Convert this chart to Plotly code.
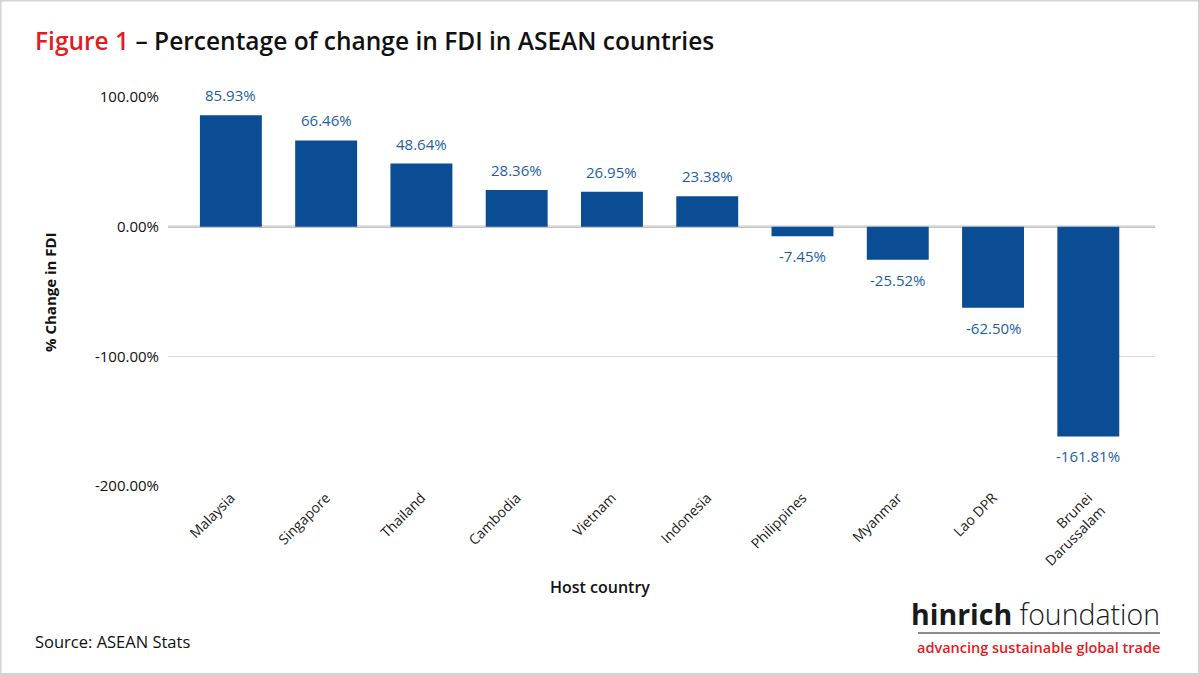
import plotly.graph_objects as go

countries = ["Malaysia", "Singapore", "Thailand", "Cambodia", "Vietnam", "Indonesia",
             "Philippines", "Myanmar", "Lao DPR", "Brunei<br>Darussalam"]
fdi_change = [85.93, 66.46, 48.64, 28.36, 26.95, 23.38, -7.45, -25.52, -62.50, -161.81]
y_tickvals = [100, 0, -100, -200]
y_ticktext = ["100.00%", "0.00%", "-100.00%", "-200.00%"]

W, H = 1200, 675
L, R, T, B = 168, 45, 97, 189
pw, ph = W - L - R, H - T - B

def px(x):
    return (x - L) / pw

def py(y):
    return (H - B - y) / ph

BAR = "#0b4d94"
LAB = "#1d5ea8"
FONT = "Open Sans"

fig = go.Figure()
fig.add_trace(go.Bar(
    x=list(range(len(countries))), y=fdi_change,
    marker=dict(color=BAR, line=dict(width=0)),
    width=0.65, showlegend=False, hoverinfo="skip",
))

annotations = []
for i, v in enumerate(fdi_change):
    annotations.append(dict(
        x=i, y=v, xref="x", yref="y", text=f"{v:.2f}%", showarrow=False,
        yshift=20 if v >= 0 else -20, yanchor="middle",
        font=dict(family=FONT, size=15, color=LAB),
    ))

annotations += [
    dict(xref="paper", yref="paper", x=px(33), y=py(40), xanchor="left", yanchor="middle",
         text="<span style='color:#e31b23'>Figure 1</span> – Percentage of change in FDI in ASEAN countries",
         showarrow=False, font=dict(family=FONT, size=24.5, color="#111111", weight=600)),
    dict(xref="paper", yref="paper", x=px(50), y=py(292), textangle=-90,
         xanchor="center", yanchor="middle", text="% Change in FDI", showarrow=False,
         font=dict(family=FONT, size=15, color="#111111", weight=700)),
    dict(xref="paper", yref="paper", x=px(600), y=py(587), xanchor="center", yanchor="middle",
         text="Host country", showarrow=False,
         font=dict(family=FONT, size=16, color="#111111", weight=600)),
    dict(xref="paper", yref="paper", x=px(33), y=py(641), xanchor="left", yanchor="middle",
         text="Source: ASEAN Stats", showarrow=False,
         font=dict(family=FONT, size=16.5, color="#111111")),
    dict(xref="paper", yref="paper", x=px(1162), y=py(614), xanchor="right", yanchor="middle",
         text="<b>hinrich</b> foundation", showarrow=False,
         font=dict(family=FONT, size=28.5, color="#1a1a1a", weight=300)),
    dict(xref="paper", yref="paper", x=px(1162), y=py(647), xanchor="right", yanchor="middle",
         text="advancing sustainable global trade", showarrow=False,
         font=dict(family=FONT, size=14.5, color="#e31b23", weight=600)),
]

shapes = [
    dict(type="line", xref="paper", yref="paper", x0=px(918), x1=px(1160), y0=py(633), y1=py(633),
         line=dict(color="#8c8c8c", width=2)),
    dict(type="line", xref="paper", yref="y", x0=0, x1=1, y0=0, y1=0,
         line=dict(color="#c4c4c4", width=2.5), layer="below"),
    dict(type="rect", xref="paper", yref="paper", x0=px(0.5), x1=px(1199), y0=py(674), y1=py(0.5),
         line=dict(color="#d4d4d4", width=2)),
]

fig.update_layout(
    width=W, height=H,
    margin=dict(l=L, r=R, t=T, b=B),
    paper_bgcolor="white", plot_bgcolor="white",
    font=dict(family=FONT, color="#111111"),
    bargap=0.35,
    xaxis=dict(
        range=[-0.66, 9.70], tickmode="array", tickvals=list(range(len(countries))),
        ticktext=countries, tickangle=-45, showgrid=False, zeroline=False,
        showline=False, ticks="", tickfont=dict(family=FONT, size=14, color="#222222"),
    ),
    yaxis=dict(
        range=[-200, 100], tickmode="array", tickvals=y_tickvals, ticktext=y_ticktext,
        showgrid=True, gridcolor="#d9d9d9", gridwidth=1, zeroline=False,
        showline=False, ticks="", ticklabelstandoff=8,
        tickfont=dict(family=FONT, size=15, color="#111111"),
    ),
    annotations=annotations,
    shapes=shapes,
)

fig.write_html("out.html")
